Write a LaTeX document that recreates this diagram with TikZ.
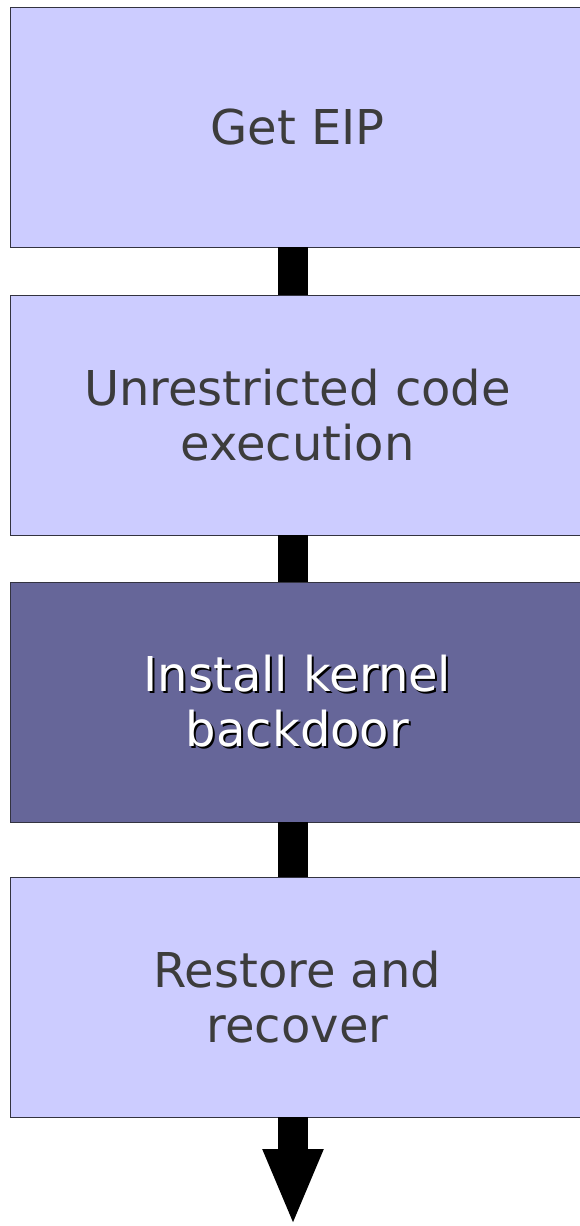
\documentclass[tikz,border=0pt]{standalone}
\usepackage{fontspec}
\setmainfont{DejaVu Sans}
\usepackage{tikz}
\usetikzlibrary{arrows.meta,positioning}

\definecolor{stagefill}{HTML}{CCCCFF}
\definecolor{activefill}{HTML}{666699}
\definecolor{stagetext}{HTML}{3C3C3C}
\definecolor{stageline}{HTML}{333340}

\newcommand{\shadowed}[1]{\rlap{\kern2pt\raisebox{-2pt}{\color{black}#1}}#1}

\begin{document}
\begin{tikzpicture}[x=1pt,y=1pt,
	stage/.style={draw=stageline,line width=0.8pt,fill=stagefill,text=stagetext,minimum width=575pt,minimum height=240pt,inner sep=0pt,outer sep=0pt,align=center,font=\fontsize{48pt}{55pt}\selectfont},
	active/.style={stage,fill=activefill,text=white},
	bar/.style={line width=30pt,black}]
	\useasboundingbox (0,0) rectangle (579,-1226);
	\node[stage] (eip) at (297.5,-127) {Get EIP};
	\node[stage,below=48pt of eip] (code) {Unrestricted code\\execution};
	\node[active,below=47pt of code] (backdoor) {\shadowed{Install kernel}\\\shadowed{backdoor}};
	\node[stage,below=55pt of backdoor] (restore) {Restore and\\recover};
	\coordinate (tip) at (293,-1226);
	% connectors between the stages
	\draw[bar] ([xshift=-4.5pt]eip.south) -- ([xshift=-4.5pt]code.north);
	\draw[bar] ([xshift=-4.5pt]code.south) -- ([xshift=-4.5pt]backdoor.north);
	\draw[bar] ([xshift=-4.5pt]backdoor.south) -- ([xshift=-4.5pt]restore.north);
	\draw[bar,-{Triangle[length=77pt,width=55pt]}] ([xshift=-4.5pt]restore.south) -- (tip);
\end{tikzpicture}
\end{document}
